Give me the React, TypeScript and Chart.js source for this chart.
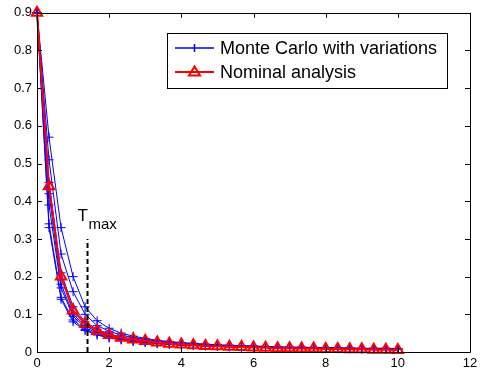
import React, { useEffect, useRef } from "react";
import { Chart, registerables } from "chart.js";

Chart.register(...registerables);

const xValues = [0, 0.333, 0.667, 1, 1.333, 1.667, 2, 2.333, 2.667, 3, 3.333, 3.667, 4, 4.333, 4.667, 5, 5.333, 5.667, 6, 6.333, 6.667, 7, 7.333, 7.667, 8, 8.333, 8.667, 9, 9.333, 9.667, 10];

const nominal = [0.9, 0.44, 0.2, 0.11, 0.075, 0.056, 0.045, 0.038, 0.033, 0.029, 0.025, 0.022, 0.02, 0.018, 0.016, 0.015, 0.014, 0.013, 0.012, 0.011, 0.01, 0.01, 0.009, 0.009, 0.008, 0.008, 0.007, 0.007, 0.006, 0.006, 0.005];

const mc1 = [0.9, 0.57, 0.33, 0.2, 0.12, 0.083, 0.063, 0.05, 0.042, 0.036, 0.031, 0.028, 0.025, 0.023, 0.021, 0.019, 0.018, 0.017, 0.016, 0.015, 0.014, 0.013, 0.013, 0.012, 0.012, 0.011, 0.011, 0.01, 0.01, 0.01, 0.009];
const mc2 = [0.9, 0.51, 0.26, 0.16, 0.1, 0.07, 0.055, 0.045, 0.038, 0.033, 0.029, 0.026, 0.023, 0.021, 0.019, 0.018, 0.017, 0.016, 0.015, 0.014, 0.013, 0.012, 0.012, 0.011, 0.011, 0.01, 0.01, 0.009, 0.009, 0.009, 0.008];
const mc3 = [0.9, 0.45, 0.21, 0.12, 0.08, 0.06, 0.048, 0.04, 0.034, 0.03, 0.026, 0.023, 0.021, 0.019, 0.018, 0.016, 0.015, 0.014, 0.013, 0.013, 0.012, 0.011, 0.011, 0.01, 0.01, 0.009, 0.009, 0.009, 0.008, 0.008, 0.008];
const mc4 = [0.9, 0.42, 0.18, 0.1, 0.07, 0.053, 0.043, 0.036, 0.031, 0.027, 0.024, 0.022, 0.02, 0.018, 0.017, 0.015, 0.014, 0.013, 0.013, 0.012, 0.011, 0.011, 0.01, 0.01, 0.009, 0.009, 0.009, 0.008, 0.008, 0.008, 0.007];
const mc5 = [0.9, 0.39, 0.17, 0.095, 0.065, 0.05, 0.041, 0.035, 0.03, 0.027, 0.024, 0.022, 0.02, 0.018, 0.017, 0.016, 0.015, 0.014, 0.013, 0.012, 0.012, 0.011, 0.011, 0.01, 0.01, 0.01, 0.009, 0.009, 0.009, 0.008, 0.008];
const mc6 = [0.9, 0.34, 0.145, 0.085, 0.06, 0.047, 0.039, 0.033, 0.029, 0.026, 0.023, 0.021, 0.019, 0.018, 0.017, 0.016, 0.015, 0.014, 0.013, 0.012, 0.012, 0.011, 0.011, 0.01, 0.01, 0.01, 0.009, 0.009, 0.009, 0.008, 0.008];
const mc7 = [0.9, 0.33, 0.14, 0.08, 0.057, 0.045, 0.037, 0.032, 0.028, 0.025, 0.022, 0.02, 0.018, 0.017, 0.016, 0.015, 0.014, 0.013, 0.012, 0.012, 0.011, 0.011, 0.01, 0.01, 0.01, 0.009, 0.009, 0.009, 0.008, 0.008, 0.008];

const monteCarlo = [mc1, mc2, mc3, mc4, mc5, mc6, mc7];

const tMaxX = 1.4;
const tMaxTop = 0.3;

const legendLabels = ["Monte Carlo with variations", "Nominal analysis"];

const FONT = "'Liberation Sans', Arial, sans-serif";

const toPoints = (ys: number[]) => ys.map((y, i) => ({ x: xValues[i], y }));

const boxPlugin = {
  id: "matlabBox",
  afterDraw(chart: any) {
    const { ctx, chartArea: a, scales } = chart;
    const xs = scales.x;
    const ys = scales.y;
    ctx.save();
    ctx.strokeStyle = "#000";
    ctx.lineWidth = 1;
    ctx.beginPath();
    ctx.rect(Math.round(a.left) + 0.5, Math.round(a.top) + 0.5, Math.round(a.right - a.left), Math.round(a.bottom - a.top));
    ctx.stroke();
    const tl = 5;
    ctx.beginPath();
    xs.ticks.forEach((t: any) => {
      const px = Math.round(xs.getPixelForValue(t.value)) + 0.5;
      ctx.moveTo(px, a.bottom);
      ctx.lineTo(px, a.bottom - tl);
      ctx.moveTo(px, a.top);
      ctx.lineTo(px, a.top + tl);
    });
    ys.ticks.forEach((t: any) => {
      const py = Math.round(ys.getPixelForValue(t.value)) + 0.5;
      ctx.moveTo(a.left, py);
      ctx.lineTo(a.left + tl, py);
      ctx.moveTo(a.right, py);
      ctx.lineTo(a.right - tl, py);
    });
    ctx.stroke();

    // T_max label
    const lx = xs.getPixelForValue(tMaxX);
    const ly = ys.getPixelForValue(tMaxTop);
    ctx.fillStyle = "#000";
    ctx.textBaseline = "alphabetic";
    ctx.textAlign = "left";
    ctx.font = `17px ${FONT}`;
    ctx.fillText("T", lx - 10, ly - 18);
    ctx.font = `15px ${FONT}`;
    ctx.fillText("max", lx + 1, ly - 10);

    // legend
    const bx = 167, by = 33, bw = 280, bh = 55;
    ctx.fillStyle = "#fff";
    ctx.fillRect(bx, by, bw, bh);
    ctx.strokeStyle = "#000";
    ctx.lineWidth = 1;
    ctx.strokeRect(bx + 0.5, by + 0.5, bw, bh);
    const rows = [
      { y: 48, color: "#0000ff", lw: 1.5, marker: "cross" },
      { y: 72, color: "#ff0000", lw: 2, marker: "triangle" },
    ];
    rows.forEach((r, i) => {
      ctx.strokeStyle = r.color;
      ctx.lineWidth = r.lw;
      ctx.beginPath();
      ctx.moveTo(175, r.y);
      ctx.lineTo(214, r.y);
      ctx.stroke();
      ctx.beginPath();
      if (r.marker === "cross") {
        ctx.moveTo(194.5, r.y - 4);
        ctx.lineTo(194.5, r.y + 4);
      } else {
        ctx.moveTo(194.5, r.y - 5.5);
        ctx.lineTo(189, r.y + 3.5);
        ctx.lineTo(200, r.y + 3.5);
        ctx.closePath();
      }
      ctx.stroke();
      ctx.fillStyle = "#000";
      ctx.font = `18px ${FONT}`;
      ctx.textBaseline = "middle";
      ctx.fillText(legendLabels[i], 220, r.y + 1);
    });
    ctx.restore();
  },
};

export default function App() {
  const ref = useRef<HTMLCanvasElement>(null);
  useEffect(() => {
    if (!ref.current) return;
    const mcSets = monteCarlo.map((ys, i) => ({
      label: i === 0 ? legendLabels[0] : "mc" + i,
      data: toPoints(ys),
      borderColor: "#0000ff",
      backgroundColor: "#0000ff",
      borderWidth: 1,
      pointStyle: "cross" as const,
      pointRadius: 4.5,
      pointBorderWidth: 1,
      pointBorderColor: "#0000ff",
      tension: 0,
      clip: false as any,
      order: 2,
    }));
    const chart = new Chart(ref.current, {
      type: "line",
      data: {
        datasets: [
          {
            label: legendLabels[1],
            data: toPoints(nominal),
            borderColor: "#ff0000",
            backgroundColor: "rgba(0,0,0,0)",
            borderWidth: 2,
            pointStyle: "triangle",
            pointRadius: 6,
            pointBorderWidth: 2,
            pointBorderColor: "#ff0000",
            tension: 0,
            clip: false as any,
            order: 1,
          },
          ...mcSets,
          {
            label: "tmax",
            data: [
              { x: tMaxX, y: 0 },
              { x: tMaxX, y: tMaxTop },
            ],
            borderColor: "#000",
            borderWidth: 2,
            borderDash: [5, 3],
            pointRadius: 0,
            order: 0,
          },
        ],
      },
      options: {
        animation: false,
        responsive: false,
        layout: { padding: { top: 10, right: 19, left: 0, bottom: 0 } },
        plugins: { legend: { display: false }, tooltip: { enabled: false } },
        scales: {
          x: {
            type: "linear",
            min: 0,
            max: 12,
            afterFit: (s: any) => {
              s.height = 22;
            },
            ticks: { stepSize: 2, color: "#000", padding: 4, font: { family: FONT, size: 13 } },
            grid: { display: false, drawTicks: false },
            border: { display: false },
          },
          y: {
            type: "linear",
            min: 0,
            max: 0.9,
            afterFit: (s: any) => {
              s.width = 37;
            },
            ticks: { stepSize: 0.1, color: "#000", padding: 5, font: { family: FONT, size: 13 } },
            grid: { display: false, drawTicks: false },
            border: { display: false },
          },
        },
      },
      plugins: [boxPlugin],
    });
    return () => chart.destroy();
  }, []);
  return (
    <div style={{ position: "fixed", left: 0, top: 0, width: 489, height: 374, background: "#fff" }}>
      <canvas ref={ref} width={489} height={374} />
    </div>
  );
}
